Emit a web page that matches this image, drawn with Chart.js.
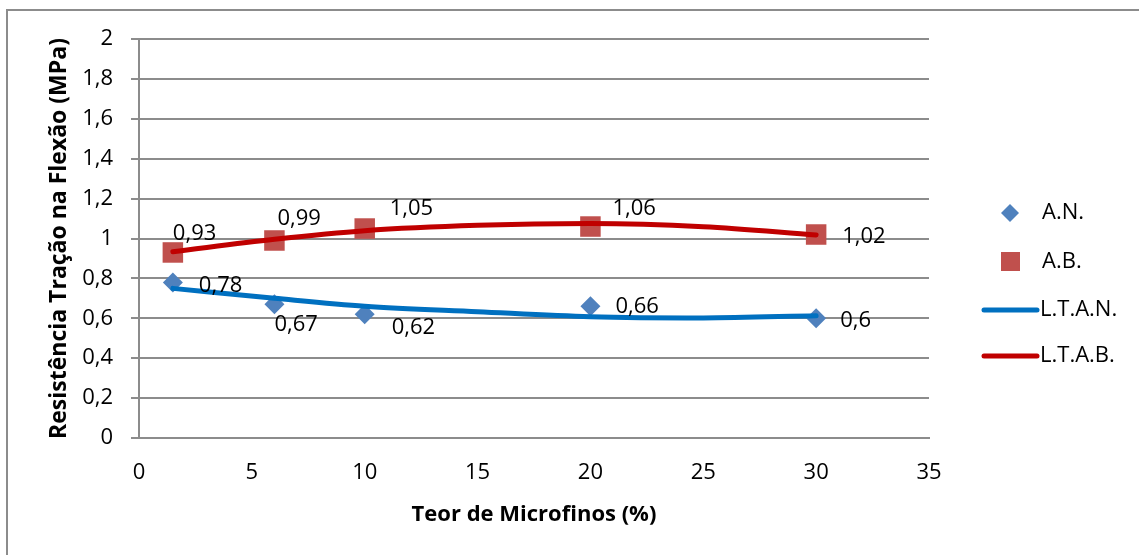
<!DOCTYPE html>
<html lang="pt">
<head>
    <meta charset="UTF-8">
    <title>Resistência Tração na Flexão</title>
    <script src="https://cdn.jsdelivr.net/npm/chart.js"></script>
    <style>
        body { margin: 0; background: #fff; }
        .frame { position: absolute; left: 6px; top: 9px; width: 1200px; height: 600px;
                 border-left: 2px solid #8c8c8c; border-top: 2px solid #8c8c8c; }
        .wrap { position: absolute; left: 0; top: 0; width: 1139px; height: 555px; }
    </style>
</head>
<body>
    <div class="frame"></div>
    <div class="wrap"><canvas id="grafico" width="1139" height="555"></canvas></div>
    <script>
        // teor de microfinos (%)
        const teor = [1.5, 6, 10, 20, 30];
        const an = [0.78, 0.67, 0.62, 0.66, 0.6];
        const ab = [0.93, 0.99, 1.05, 1.06, 1.02];
        // linhas de tendência
        const teorLinha = [1.5, 6, 10, 15, 20, 25, 30];
        const ltan = [0.75, 0.70, 0.66, 0.633, 0.608, 0.602, 0.613];
        const ltab = [0.934, 0.996, 1.039, 1.066, 1.075, 1.059, 1.018];
        const yTicks = [0, 0.2, 0.4, 0.6, 0.8, 1, 1.2, 1.4, 1.6, 1.8, 2];
        const xTicks = [0, 5, 10, 15, 20, 25, 30, 35];

        const fmt = v => String(v).replace('.', ',');
        const FONT = "'Open Sans', 'Noto Sans', sans-serif";

        const pts = (xs, ys) => xs.map((x, i) => ({ x: x, y: ys[i] }));

        // deslocamento dos rótulos de dados (px)
        const offAN = [[26, 3], [0, 20], [27, 13], [25, 0], [24, 2]];
        const offAB = [[0, -19], [3, -22], [25, -20], [22, -18], [26, 2]];

        const rotulos = {
            id: 'rotulos',
            afterDatasetsDraw(chart) {
                const c = chart.ctx;
                c.save();
                c.font = '22px ' + FONT;
                c.fillStyle = '#000';
                c.textBaseline = 'middle';
                c.textAlign = 'left';
                [[0, offAN], [1, offAB]].forEach(([di, off]) => {
                    const meta = chart.getDatasetMeta(di);
                    meta.data.forEach((p, i) => {
                        const v = chart.data.datasets[di].data[i].y;
                        c.fillText(fmt(v), p.x + off[i][0], p.y + off[i][1]);
                    });
                });
                c.restore();
            }
        };

        const legenda = {
            id: 'legenda',
            afterDraw(chart) {
                const c = chart.ctx;
                const ds = chart.data.datasets;
                c.save();
                c.font = '22px ' + FONT;
                c.textBaseline = 'middle';
                const ys = [213, 262, 310, 356];
                // A.N.
                c.fillStyle = ds[0].backgroundColor;
                c.beginPath();
                c.moveTo(1010, 204); c.lineTo(1019, 213); c.lineTo(1010, 222); c.lineTo(1001, 213);
                c.closePath(); c.fill();
                // A.B.
                c.fillStyle = ds[1].backgroundColor;
                c.fillRect(1001, 252, 19, 19);
                // linhas
                c.lineCap = 'round';
                [[2, ys[2]], [3, ys[3]]].forEach(([i, y]) => {
                    c.strokeStyle = ds[i].borderColor;
                    c.lineWidth = 5;
                    c.beginPath(); c.moveTo(984, y); c.lineTo(1037, y); c.stroke();
                });
                c.fillStyle = '#000';
                c.fillText(ds[0].label, 1042, ys[0]);
                c.fillText(ds[1].label, 1042, ys[1]);
                c.fillText(ds[2].label, 1040, ys[2]);
                c.fillText(ds[3].label, 1040, ys[3]);
                c.restore();
            }
        };

        new Chart(document.getElementById('grafico'), {
            type: 'scatter',
            data: {
                datasets: [
                    {
                        label: 'A.N.',
                        data: pts(teor, an),
                        pointStyle: 'rectRot',
                        pointRadius: 10,
                        backgroundColor: '#4f81bd',
                        borderColor: '#4f81bd',
                        borderWidth: 0,
                        order: 1
                    },
                    {
                        label: 'A.B.',
                        data: pts(teor, ab),
                        pointStyle: 'rect',
                        pointRadius: 14.5,
                        backgroundColor: '#c0504d',
                        borderColor: '#c0504d',
                        borderWidth: 0,
                        order: 2
                    },
                    {
                        label: 'L.T.A.N.',
                        data: pts(teorLinha, ltan),
                        showLine: true,
                        borderColor: '#0070c0',
                        backgroundColor: '#0070c0',
                        borderWidth: 5,
                        borderCapStyle: 'round',
                        pointRadius: 0,
                        cubicInterpolationMode: 'monotone',
                        order: 0
                    },
                    {
                        label: 'L.T.A.B.',
                        data: pts(teorLinha, ltab),
                        showLine: true,
                        borderColor: '#c00000',
                        backgroundColor: '#c00000',
                        borderWidth: 5,
                        borderCapStyle: 'round',
                        pointRadius: 0,
                        cubicInterpolationMode: 'monotone',
                        order: 0
                    }
                ]
            },
            options: {
                responsive: false,
                animation: false,
                layout: { padding: { left: 42, right: 210, top: 39, bottom: 23 } },
                plugins: {
                    legend: { display: false },
                    tooltip: { enabled: false }
                },
                scales: {
                    x: {
                        type: 'linear',
                        min: 0, max: 35,
                        afterBuildTicks: s => { s.ticks = xTicks.map(v => ({ value: v })); },
                        afterFit: s => { s.height = 94; },
                        grid: { display: false, drawTicks: true, tickLength: 7, color: '#8c8c8c' },
                        border: { color: '#8c8c8c', width: 2 },
                        ticks: { color: '#000', font: { family: FONT, size: 22 }, padding: 15, callback: v => fmt(v) },
                        title: {
                            display: true, text: 'Teor de Microfinos (%)', color: '#000',
                            font: { family: FONT, size: 22, weight: 'bold' }
                        }
                    },
                    y: {
                        min: 0, max: 2,
                        afterBuildTicks: s => { s.ticks = yTicks.map(v => ({ value: v })); },
                        afterFit: s => { s.width = 97; },
                        grid: { color: '#8c8c8c', lineWidth: 2, tickLength: 8 },
                        border: { color: '#8c8c8c', width: 2 },
                        ticks: { color: '#000', font: { family: FONT, size: 22 }, padding: 18, callback: v => fmt(v) },
                        title: {
                            display: true, text: 'Resistência Tração na Flexão (MPa)', color: '#000',
                            font: { family: FONT, size: 23, weight: 'bold' }
                        }
                    }
                }
            },
            plugins: [rotulos, legenda]
        });
    </script>
</body>
</html>
